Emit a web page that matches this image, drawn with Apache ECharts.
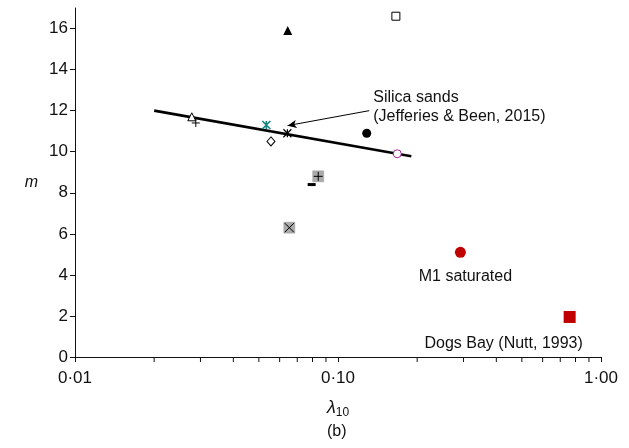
<!DOCTYPE html>
<html>
<head>
<meta charset="utf-8">
<script src="https://cdn.jsdelivr.net/npm/echarts@6/dist/echarts.min.js"></script>
<style>
  html, body { margin: 0; padding: 0; background: #fff; }
  #chart { width: 629px; height: 448px; }
</style>
</head>
<body>
<div id="chart"></div>
<script>
// Points as [lambda10, m], one small list per marker style
const filledTriangle = [[0.0644, 15.9]];
const openSquare     = [[0.166, 16.6]];
const openTriangle   = [[0.0278, 11.7]];
const plusPoints     = [[0.0288, 11.4]];
const tealStar       = [[0.0534, 11.3]];
const openDiamond    = [[0.0556, 10.5]];
const blackStar      = [[0.0642, 10.9]];
const filledCircle   = [[0.1286, 10.9]];
const purpleCircle   = [[0.168, 9.9]];
const greyPlusSquare = [[0.0841, 8.8]];
const dashPoints     = [[0.0794, 8.4]];
const greyCrossSquare= [[0.0653, 6.3]];
const m1Saturated    = [[0.292, 5.1]];
const dogsBay        = [[0.760, 1.95]];

// Silica sands trend line (Jefferies & Been, 2015)
const silicaTrend = [[0.02, 12.0], [0.19, 9.78]];
// Leader arrow from the caption to the trend
const arrowFrom = [0.1315, 12.0];
const arrowTo   = [0.0643, 11.27];

// Axis ticks
const yTickValues = [0, 2, 4, 6, 8, 10, 12, 14, 16];
const minorTickValues = [0.02, 0.03, 0.04, 0.05, 0.06, 0.07, 0.08, 0.09,
                         0.2, 0.3, 0.4, 0.5, 0.6, 0.7, 0.8, 0.9];

const INK = '#111';
const FONT = '"Liberation Sans", Arial, sans-serif';

const PLUS = 'path://M0,5L10,5M5,0L5,10';
const CROSS = 'path://M0,0L10,10M10,0L0,10';
const ASTERISK = 'path://M0,0L10,10M10,0L0,10M5,0L5,10';

function marker(data, symbol, size, style, extra) {
  return Object.assign({
    type: 'scatter',
    data: data,
    symbol: symbol,
    symbolSize: size,
    itemStyle: Object.assign({ opacity: 1 }, style),
    silent: true,
    z: 5
  }, extra || {});
}
const stroke = (c, w) => ({ color: 'none', borderColor: c, borderWidth: w || 1 });
const hollow = (c, w) => ({ color: '#fff', borderColor: c, borderWidth: w || 1 });
const caption = (text, offset) => ({
  show: true, position: 'inside', offset: offset,
  formatter: text, fontSize: 16, color: INK, fontFamily: FONT
});

const chart = echarts.init(document.getElementById('chart'), null, { renderer: 'canvas' });

chart.setOption({
  animation: false,
  backgroundColor: '#fff',
  textStyle: { fontFamily: FONT, color: INK },
  grid: { left: 75, right: 28, top: 8, bottom: 91, outerBoundsMode: 'none' },
  xAxis: {
    type: 'log',
    logBase: 10,
    min: 0.01,
    max: 1,
    axisLine: { lineStyle: { color: INK, width: 1 } },
    axisTick: { show: true, length: 5, lineStyle: { color: INK } },
    splitLine: { show: false },
    axisLabel: {
      fontSize: 17,
      color: INK,
      margin: 13,
      formatter: v => v.toFixed(2).replace('.', '\u00b7')
    },
    name: '{l|\u03bb}{s|10}',
    nameLocation: 'middle',
    nameGap: 40,
    nameTextStyle: {
      rich: {
        l: { fontSize: 18, fontStyle: 'italic', fontFamily: FONT, color: INK },
        s: { fontSize: 12, fontFamily: FONT, color: INK, padding: [10, 0, 0, 0] }
      }
    }
  },
  yAxis: {
    type: 'value',
    min: 0,
    max: 17,
    interval: 2,
    axisLine: { show: true, lineStyle: { color: INK, width: 1 } },
    axisTick: { show: true, length: 5, customValues: yTickValues, lineStyle: { color: INK } },
    splitLine: { show: false },
    axisLabel: { fontSize: 17, color: INK, margin: 7, customValues: yTickValues },
    name: 'm',
    nameLocation: 'middle',
    nameGap: 37,
    nameRotate: 0,
    nameTextStyle: { fontSize: 16, fontStyle: 'italic', color: INK }
  },
  graphic: [{
    type: 'text',
    left: 327,
    top: 424,
    style: { text: '(b)', font: '16px ' + FONT, fill: INK }
  }],
  series: [
    // minor ticks of the log axis at 2..9 of each decade
    {
      type: 'custom',
      silent: true,
      z: 3,
      data: minorTickValues.map(v => [v, 0]),
      renderItem: function (params, api) {
        const p = api.coord([api.value(0), api.value(1)]);
        return {
          type: 'line',
          shape: { x1: p[0], y1: p[1], x2: p[0], y2: p[1] + 5 },
          style: { stroke: INK, lineWidth: 1 }
        };
      }
    },
    {
      type: 'line',
      data: silicaTrend,
      symbol: 'none',
      silent: true,
      lineStyle: { color: '#000', width: 2.6 },
      z: 4,
      markLine: {
        silent: true,
        symbol: ['none', 'arrow'],
        symbolSize: [6, 9],
        label: { show: false },
        lineStyle: { color: '#000', width: 1, type: 'solid' },
        data: [[{ coord: arrowFrom }, { coord: arrowTo }]]
      }
    },
    // caption attached to the arrow tail
    marker([arrowFrom], 'circle', 0, {}, {
      label: {
        show: true,
        position: 'right',
        distance: 4,
        offset: [0, -3.5],
        formatter: 'Silica sands\n(Jefferies & Been, 2015)',
        fontSize: 16,
        lineHeight: 19.6,
        color: INK,
        fontFamily: FONT
      }
    }),
    marker(filledTriangle, 'triangle', 9, { color: '#000' }),
    marker(openSquare, 'rect', 8, hollow('#000')),
    marker(openTriangle, 'triangle', 8, hollow('#000')),
    marker(plusPoints, PLUS, 8, stroke('#000')),
    marker(tealStar, ASTERISK, 8, stroke('#15837f', 1.6)),
    marker(openDiamond, 'diamond', [8, 9], hollow('#000')),
    marker(blackStar, ASTERISK, 8, stroke('#000', 1.2)),
    marker(filledCircle, 'circle', 9, { color: '#000' }),
    marker(purpleCircle, 'circle', 8, hollow('#a0209e')),
    marker(greyPlusSquare, 'rect', 11, { color: '#aaaaaa', borderColor: '#999', borderWidth: 0.5 }),
    marker(greyPlusSquare, PLUS, 9, stroke('#000'), { z: 6 }),
    marker(dashPoints, 'rect', [8, 3], { color: '#000' }),
    marker(greyCrossSquare, 'rect', 11, { color: '#aaaaaa', borderColor: '#999', borderWidth: 0.5 }),
    marker(greyCrossSquare, CROSS, 9, stroke('#000'), { z: 6 }),
    marker(m1Saturated, 'circle', 11, { color: '#c00000' }, {
      label: caption('M1 saturated', [5, 24])
    }),
    marker(dogsBay, 'rect', 12, { color: '#c00000' }, {
      label: caption('Dogs Bay (Nutt, 1993)', [-66, 27])
    })
  ]
});
</script>
</body>
</html>
